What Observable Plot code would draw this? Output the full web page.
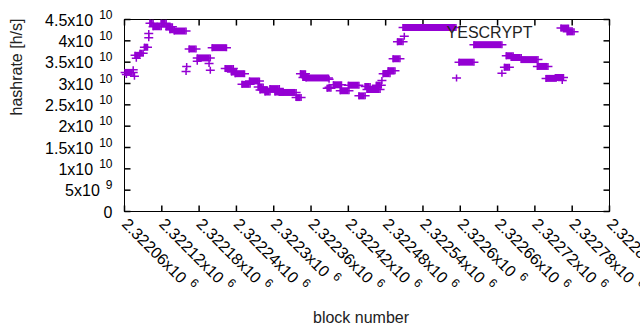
<!DOCTYPE html>
<html><head><meta charset="utf-8">
<script src="https://cdn.jsdelivr.net/npm/d3@7"></script>
<script src="https://cdn.jsdelivr.net/npm/@observablehq/plot@0.6"></script>
<style>body{margin:0;background:#fff;}</style>
</head><body><div id="chart"></div>
<script>
// Clusters of points (runs of blocks at one hashrate): start block, end block, hashrate
const segStart = [2322061,2322077,2322085,2322092,2322101,2322106,2322119,2322127,2322133,2322140,2322164,2322177,2322201,2322222,2322232,2322238,2322249,2322261,2322275,2322278,2322286,2322294,2322302,2322309,2322336,2322343,2322347,2322352,2322386,2322396,2322407,2322420,2322437,2322447,2322450,2322465,2322476,2322484,2322492,2322499,2322508,2322598,2322622,2322671,2322674,2322682,2322698,2322724,2322738,2322753,2322762,2322772];
const segEnd   = [2322074,2322084,2322090,2322097,2322106,2322119,2322127,2322137,2322140,2322159,2322175,2322198,2322224,2322235,2322240,2322253,2322262,2322277,2322283,2322290,2322294,2322309,2322315,2322336,2322344,2322351,2322355,2322388,2322392,2322409,2322421,2322437,2322447,2322455,2322471,2322473,2322487,2322495,2322503,2322508,2322593,2322622,2322667,2322679,2322685,2322698,2322725,2322741,2322754,2322766,2322774,2322783];
const segRate  = [3.26e10,3.66e10,3.71e10,3.85e10,4.41e10,4.33e10,4.41e10,4.33e10,4.26e10,4.23e10,3.81e10,3.60e10,3.84e10,3.35e10,3.27e10,3.23e10,2.98e10,3.06e10,2.92e10,2.85e10,2.80e10,2.88e10,2.80e10,2.79e10,2.67e10,3.23e10,3.14e10,3.13e10,2.89e10,2.97e10,2.83e10,2.96e10,2.71e10,2.93e10,2.86e10,2.96e10,3.23e10,3.30e10,3.58e10,3.98e10,4.31e10,3.50e10,3.91e10,3.38e10,3.65e10,3.61e10,3.56e10,3.40e10,3.12e10,3.14e10,4.30e10,4.21e10];
// Isolated points
const ptBlock = [2322063,2322074,2322076,2322079,2322099,2322099,2322160,2322159,2322177,2322196,2322198,2322389,2322389,2322474,2322510,2322594,2322667,2322764];
const ptRate  = [3.21e10,3.32e10,3.17e10,3.59e10,4.17e10,4.07e10,3.40e10,3.28e10,3.52e10,3.47e10,3.31e10,3.10e10,2.91e10,3.07e10,4.11e10,3.13e10,3.24e10,3.07e10];

const xTicks = [2322060,2322120,2322180,2322240,2322300,2322360,2322420,2322480,2322540,2322600,2322660,2322720,2322780,2322840];
const xTickLabels = ["2.32206x10^6","2.32212x10^6","2.32218x10^6","2.32224x10^6","2.3223x10^6","2.32236x10^6","2.32242x10^6","2.32248x10^6","2.32254x10^6","2.3226x10^6","2.32266x10^6","2.32272x10^6","2.32278x10^6","2.32284x10^6"];
const yTicks = [0,0.5e10,1e10,1.5e10,2e10,2.5e10,3e10,3.5e10,4e10,4.5e10];
const yTickLabels = ["0","5x10^9","1x10^10","1.5x10^10","2x10^10","2.5x10^10","3x10^10","3.5x10^10","4x10^10","4.5x10^10"];
const seriesName = "YESCRYPT";
const xLabel = "block number";
const yLabel = "hashrate [h/s]";

const color = "#9400d3";
const segs = segStart.map((s, i) => ({x1: s, x2: segEnd[i], y: segRate[i]}));
const ends = segs.flatMap(d => [{x: d.x1, y: d.y}, {x: d.x2, y: d.y}]);
const pts = ptBlock.map((b, i) => ({x: b, y: ptRate[i]}));
const xDomain = [xTicks[0], xTicks[xTicks.length - 1]];
const yDomain = [yTicks[0], yTicks[yTicks.length - 1]];

const cross = {draw(ctx) { ctx.moveTo(-4.5, 0); ctx.lineTo(4.5, 0); ctx.moveTo(0, -3.5); ctx.lineTo(0, 3.5); }};
const tickR = {draw(ctx) { ctx.moveTo(0, 0); ctx.lineTo(6, 0); }};
const tickL = {draw(ctx) { ctx.moveTo(0, 0); ctx.lineTo(-6, 0); }};
const tickU = {draw(ctx) { ctx.moveTo(0, 0); ctx.lineTo(0, -6); }};
const tickD = {draw(ctx) { ctx.moveTo(0, 0); ctx.lineTo(0, 6); }};

const plot = Plot.plot({
  width: 640, height: 330,
  marginLeft: 124, marginRight: 31, marginTop: 19, marginBottom: 119,
  style: {fontFamily: "'Liberation Sans', Arial, sans-serif", fontSize: "16px", background: "white", color: "black"},
  x: {domain: xDomain},
  y: {domain: yDomain},
  marks: [
    Plot.axisY({ticks: yTicks, tickSize: 0, tickPadding: 12, dy: 1, fontSize: 16, tickFormat: d => yTickLabels[yTicks.indexOf(d)], label: null}),
    Plot.axisX({ticks: xTicks, tickSize: 0, tickPadding: 10, tickRotate: 45, fontSize: 16, tickFormat: d => xTickLabels[xTicks.indexOf(d)], label: null}),
    Plot.dot(yTicks, {x: () => xDomain[0], y: d => d, symbol: tickR, stroke: "black", fill: "none"}),
    Plot.dot(yTicks, {x: () => xDomain[1], y: d => d, symbol: tickL, stroke: "black", fill: "none"}),
    Plot.dot(xTicks, {x: d => d, y: () => yDomain[0], symbol: tickU, stroke: "black", fill: "none"}),
    Plot.dot(xTicks, {x: d => d, y: () => yDomain[1], symbol: tickD, stroke: "black", fill: "none"}),
    Plot.frame({stroke: "black"}),
    Plot.ruleY(segs, {x1: "x1", x2: "x2", y: "y", stroke: color, strokeWidth: 7}),
    Plot.dot(ends, {x: "x", y: "y", symbol: cross, stroke: color, strokeWidth: 1.5, fill: "none"}),
    Plot.dot(pts, {x: "x", y: "y", symbol: cross, stroke: color, strokeWidth: 1.5, fill: "none"}),
    Plot.text([seriesName], {text: d => d, frameAnchor: "top-right", textAnchor: "end", lineAnchor: "middle", dx: -77, dy: 13.5, fontSize: 16, fill: "#222"}),
    Plot.text([xLabel], {text: d => d, frameAnchor: "bottom", lineAnchor: "middle", dx: -6, dy: 106, fontSize: 16, fill: "#222"}),
    Plot.text([yLabel], {text: d => d, frameAnchor: "left", rotate: -90, lineAnchor: "middle", dx: -107.5, fontSize: 16, fill: "#222"})
  ]
});

d3.select(plot).selectAll('g[aria-label="y-axis tick label"] text, g[aria-label="x-axis tick label"] text').each(function() {
  const s = this.textContent;
  const k = s.indexOf("^");
  if (k < 0) return;
  this.textContent = s.slice(0, k);
  d3.select(this).append("tspan").attr("dx", 6).attr("dy", -7).attr("font-size", 12).text(s.slice(k + 1));
});

document.getElementById("chart").appendChild(plot);
</script>
</body></html>
